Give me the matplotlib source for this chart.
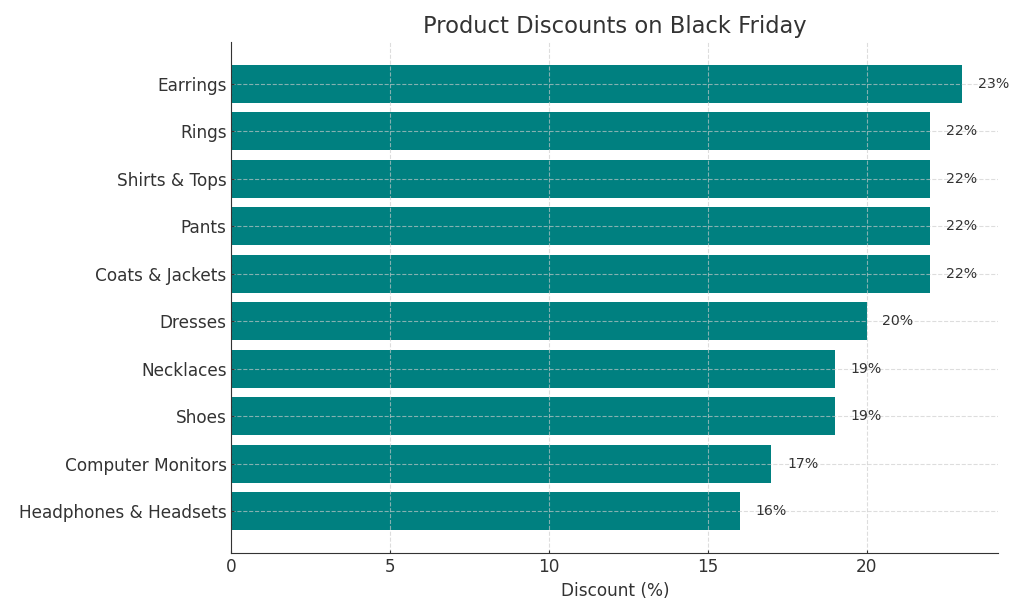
import matplotlib
matplotlib.use("Agg")
import matplotlib.pyplot as plt

categories = ["Headphones & Headsets", "Computer Monitors", "Shoes", "Necklaces",
              "Dresses", "Coats & Jackets", "Pants", "Shirts & Tops", "Rings", "Earrings"]
discounts = [16, 17, 19, 19, 20, 22, 22, 22, 22, 23]
value_labels = [f"{v}%" for v in discounts]

text_color = "#333333"
fig, ax = plt.subplots(figsize=(10.24, 6.14), dpi=100)
fig.subplots_adjust(left=0.226, right=0.975, top=0.932, bottom=0.099)

ax.barh(categories, discounts, color="#008080", height=0.8)
for i, (v, lab) in enumerate(zip(discounts, value_labels)):
    ax.text(v + 0.5, i, lab, va="center", ha="left", fontsize=10.2, color=text_color)

ax.set_title("Product Discounts on Black Friday", fontsize=16.3, color=text_color)
ax.set_xlabel("Discount (%)", fontsize=12.2, color=text_color)
ax.tick_params(axis="both", labelsize=12.2, colors=text_color, direction="in", length=2)
ax.grid(True, linestyle="--", color="#cccccc", linewidth=0.8, alpha=0.65)
ax.set_axisbelow(False)
for s in ["top", "right"]:
    ax.spines[s].set_visible(False)
for s in ["left", "bottom"]:
    ax.spines[s].set_color(text_color)
    ax.spines[s].set_zorder(5)

fig.savefig("out.png", dpi=100)
